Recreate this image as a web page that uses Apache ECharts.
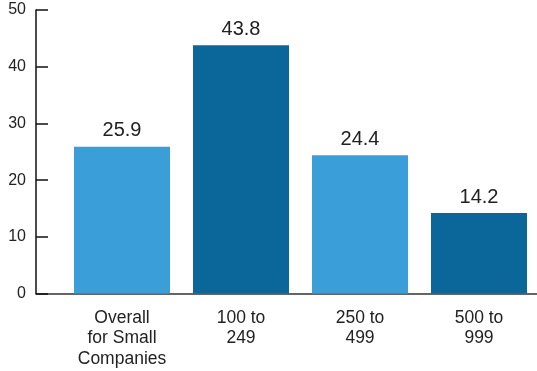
<!DOCTYPE html>
<html>
<head>
<meta charset="utf-8">
<style>
  html, body { margin: 0; padding: 0; background: #fff; }
  #chart { width: 537px; height: 371px; }
</style>
<script src="https://cdn.jsdelivr.net/npm/echarts@6/dist/echarts.min.js"></script>
</head>
<body>
<div id="chart"></div>
<script>
// Company-size groups and their percentages
const categories = ['Overall\nfor Small\nCompanies', '100 to\n249', '250 to\n499', '500 to\n999'];
const values = [25.9, 43.8, 24.4, 14.2];
const barColors = ['#3a9ed8', '#0b6699', '#3a9ed8', '#0b6699'];
const yTicks = [0, 10, 20, 30, 40, 50];

const font = 'Liberation Sans, Arial, Helvetica, sans-serif';
const chart = echarts.init(document.getElementById('chart'));

const plotTop = 10, plotHeight = 283.5;

chart.setOption({
  animation: false,
  grid: [
    // frame grid: carries the value axis and the full-width baseline
    { left: 36, right: 0, top: plotTop, height: plotHeight, outerBoundsMode: 'none', containLabel: false },
    // bar grid
    { left: 62.5, right: -1.5, top: plotTop, height: plotHeight, outerBoundsMode: 'none', containLabel: false }
  ],
  xAxis: [
    {
      gridIndex: 0, type: 'value', min: 0, max: 1,
      axisLine: { show: true, lineStyle: { color: '#333', width: 1.5 } },
      axisTick: { show: false }, axisLabel: { show: false }, splitLine: { show: false }
    },
    {
      gridIndex: 1, type: 'category', data: categories,
      axisLine: { show: false }, axisTick: { show: false },
      axisLabel: {
        color: '#222', fontFamily: font, fontSize: 17.5, lineHeight: 20.5, margin: 14
      }
    }
  ],
  yAxis: [
    {
      gridIndex: 0, type: 'value', min: yTicks[0], max: yTicks[yTicks.length - 1], interval: 10,
      axisLine: { show: true, lineStyle: { color: '#111', width: 1.5 } },
      axisTick: { show: true, inside: true, length: 12, lineStyle: { color: '#111', width: 1.5 } },
      axisLabel: { color: '#222', fontFamily: font, fontSize: 16, margin: 10 },
      splitLine: { show: false }
    },
    {
      gridIndex: 1, type: 'value', min: yTicks[0], max: yTicks[yTicks.length - 1],
      show: false
    }
  ],
  series: [{
    type: 'bar',
    xAxisIndex: 1, yAxisIndex: 1,
    barWidth: 96,
    data: values.map((v, i) => ({ value: v, itemStyle: { color: barColors[i] } })),
    label: {
      show: true, position: 'top', distance: 6,
      color: '#222', fontFamily: font, fontSize: 20,
      formatter: p => p.value.toFixed(1)
    }
  }]
});
</script>
</body>
</html>
